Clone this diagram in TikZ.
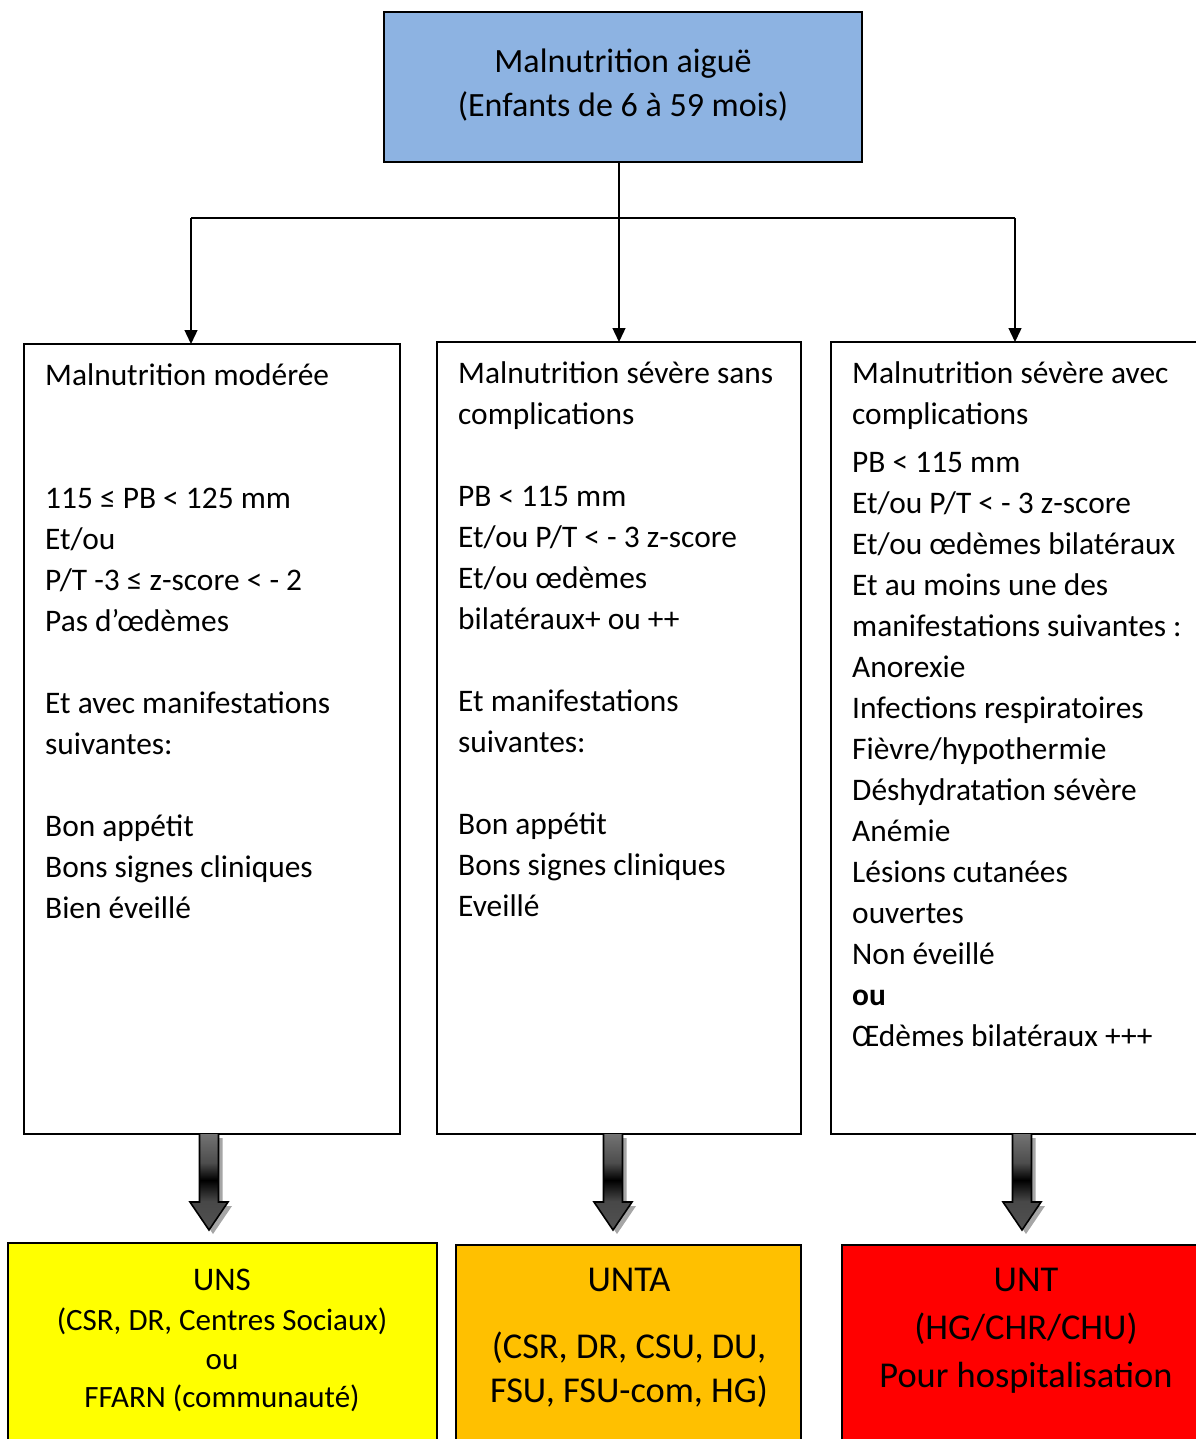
\documentclass[tikz,border=0pt]{standalone}
\usepackage{fontspec}
\setmainfont{Carlito}
\usetikzlibrary{arrows.meta}
\definecolor{topblue}{RGB}{141,179,226}
\definecolor{unsyellow}{RGB}{255,255,0}
\definecolor{untaorange}{RGB}{255,192,0}
\definecolor{untred}{RGB}{255,0,0}

% grey shaft darkening to black halfway down, grey again towards the head
\pgfdeclareverticalshading{arrowshade}{100bp}{
  color(0bp)=(black!68); color(25bp)=(black!68); color(40bp)=(black!72);
  color(51bp)=(black); color(60bp)=(black!70); color(75bp)=(black!55);
  color(100bp)=(black!55)}

% multi-line nodes are anchored at the baseline of their last line
\tikzset{
  box/.style={draw=black, line width=1.8pt, inner sep=0pt, outer sep=0pt, anchor=north west},
  bodytext/.style={inner sep=0pt, anchor=base west, align=left, font=\fontsize{31.4}{41}\selectfont},
  desttext/.style={inner sep=0pt, anchor=base, align=center},
  conn/.style={line width=1.4pt, draw=black},
  tip/.style={-{Triangle[length=14pt,width=13pt]}},
  fatarrow/.pic={
    \fill[black!35] (-9.5+4,4) -- (-9.5+4,72) -- (-19+4,72) -- (4,100) -- (19+4,72) -- (9.5+4,72) -- (9.5+4,4) -- cycle;
    \shade[shading=arrowshade]
      (-9.5,0) -- (-9.5,68) -- (-19,68) -- (0,96) -- (19,68) -- (9.5,68) -- (9.5,0) -- cycle;
    \draw[line width=1.6pt, line join=miter]
      (-9.5,0) -- (-9.5,68) -- (-19,68) -- (0,96) -- (19,68) -- (9.5,68) -- (9.5,0);
  }
}

\begin{document}
\begin{tikzpicture}[x=1pt, y=-1pt]
\useasboundingbox (0,0) rectangle (1195,1439);

% top box
\node[box, fill=topblue, minimum width=478, minimum height=150] (top) at (384,12) {};
\node[desttext, font=\fontsize{34}{44}\selectfont] (toptext) at (623,117)
  {Malnutrition aiguë\\(Enfants de 6 à 59 mois)};

% the three categories
\node[box, minimum width=376, minimum height=790] (b1) at (24,344) {};
\node[box, minimum width=364, minimum height=792] (b2) at (437,342) {};
\node[box, minimum width=384, minimum height=792] (b3) at (831,342) {};

\node[bodytext] (t1) at (45,918) {Malnutrition modérée\\[82pt]
115 ≤ PB < 125 mm\\
Et/ou\\
P/T -3 ≤ z-score < - 2\\
Pas d’œdèmes\\[41pt]
Et avec manifestations\\
suivantes:\\[41pt]
Bon appétit\\
Bons signes cliniques\\
Bien éveillé};

\node[bodytext] (t2) at (458,916) {Malnutrition sévère sans\\
complications\\[41pt]
PB < 115 mm\\
Et/ou P/T < - 3 z-score\\
Et/ou œdèmes\\
bilatéraux+ ou ++\\[41pt]
Et manifestations\\
suivantes:\\[41pt]
Bon appétit\\
Bons signes cliniques\\
Eveillé};

\node[bodytext] (t3) at (852,1046) {Malnutrition sévère avec\\
complications\\[7pt]
PB < 115 mm\\
Et/ou P/T < - 3 z-score\\
Et/ou œdèmes bilatéraux\\
Et au moins une des\\
manifestations suivantes :\\
Anorexie\\
Infections respiratoires\\
Fièvre/hypothermie\\
Déshydratation sévère\\
Anémie\\
Lésions cutanées\\
ouvertes\\
Non éveillé\\
\textbf{ou}\\
Œdèmes bilatéraux +++};

% connectors from the top box
\coordinate (j1) at (191,218);
\coordinate (j3) at (1015,218);
\draw[conn, tip] (top.south -| b2.north) -- (b2.north);
\draw[conn] (j1) -- (j3);
\draw[conn, tip] (j1) -- (j1 |- b1.north);
\draw[conn, tip] (j3) -- (j3 |- b3.north);

% destination boxes
\node[box, fill=unsyellow, minimum width=429, minimum height=210] (d1) at (8,1243) {};
\node[box, fill=untaorange, minimum width=345, minimum height=210] (d2) at (456,1245) {};
\node[box, fill=untred, minimum width=370, minimum height=210] (d3) at (842,1245) {};

\node[desttext, font=\fontsize{31}{40}\selectfont] (dt1) at (222,1407)
  {{\fontsize{33}{40}\selectfont UNS}\\(CSR, DR, Centres Sociaux)\\[-1pt]ou\\[-2pt]FFARN (communauté)};
\node[desttext, font=\fontsize{36.4}{44}\selectfont] (dt2) at (629,1402)
  {UNTA\\[23pt](CSR, DR, CSU, DU,\\FSU, FSU-com, HG)};
\node[desttext, font=\fontsize{36.4}{48}\selectfont] (dt3) at (1026,1387)
  {UNT\\(HG/CHR/CHU)\\Pour hospitalisation};

% referral arrows
\coordinate (a1) at (209,1134);
\coordinate (a2) at (613,1134);
\coordinate (a3) at (1022,1134);
\pic at (a1) {fatarrow};
\pic at (a2) {fatarrow};
\pic at (a3) {fatarrow};
\end{tikzpicture}
\end{document}
